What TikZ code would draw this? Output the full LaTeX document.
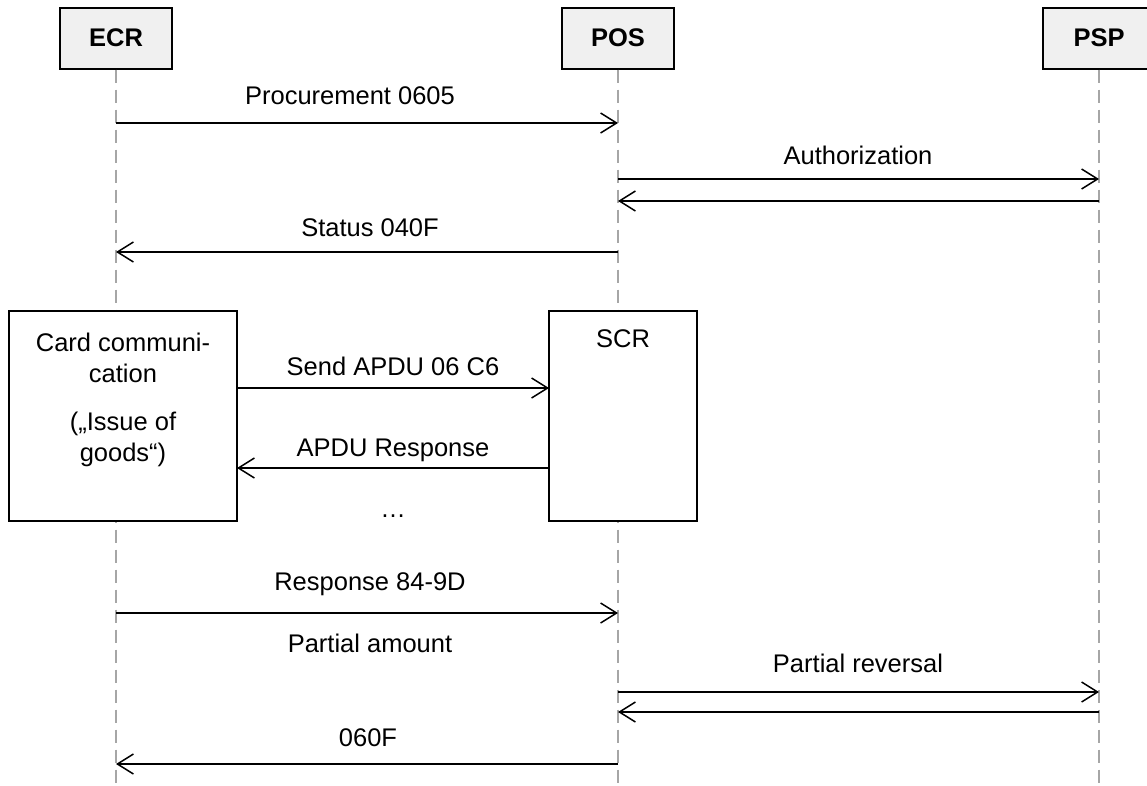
\documentclass[tikz,border=0pt]{standalone}
\usepackage{fontspec}
\setmainfont{Liberation Sans}
\usetikzlibrary{arrows.meta}
\definecolor{headfill}{HTML}{F0F0F0}
\definecolor{lifegray}{HTML}{A6A6A6}
\tikzset{
  actor/.style={draw, line width=2pt, fill=headfill, minimum width=112pt, minimum height=61pt, inner sep=0pt, font=\fontsize{25.5}{30}\selectfont\bfseries},
  lifeline/.style={lifegray, line width=1.6pt, dash pattern=on 13pt off 7pt},
  msg/.style={line width=1.5pt, -{Straight Barb[length=16pt,width=20pt]}},
  lbl/.style={font=\fontsize{25.5}{30}\selectfont, inner sep=0pt, text height=18.5pt, text depth=0pt},
  note/.style={font=\fontsize{25.5}{31}\selectfont, inner sep=0pt, align=center},
  proc/.style={draw, line width=1.8pt, fill=white, inner sep=0pt}
}
\begin{document}
\begin{tikzpicture}[x=1pt,y=-1pt, line cap=butt]
\useasboundingbox (0,0) rectangle (1147,785);
% participants
\node[actor] (ecr) at (116,38) {ECR};
\node[actor] (pos) at (618,38) {POS};
\node[actor] (psp) at (1099,38) {PSP};
% lifelines
\coordinate (ecrEnd) at (116,785);
\coordinate (posEnd) at (618,785);
\coordinate (pspEnd) at (1099,785);
\draw[lifeline] (ecr.south) -- (ecrEnd);
\draw[lifeline] (pos.south) -- (posEnd);
\draw[lifeline] (psp.south) -- (pspEnd);
% procurement
\coordinate (e1) at (116,123);
\coordinate (p1) at (618,123);
\draw[msg] (e1) -- (p1);
\node[lbl] (procLbl) at (350,95) {Procurement 0605};
% authorization
\coordinate (p2) at (618,179);
\coordinate (s2) at (1099,179);
\coordinate (p3) at (618,201);
\coordinate (s3) at (1099,201);
\draw[msg] (p2) -- (s2);
\draw[msg] (s3) -- (p3);
\node[lbl] (authLbl) at (858,155) {Authorization};
% status
\coordinate (p4) at (618,252);
\coordinate (e4) at (116,252);
\draw[msg] (p4) -- (e4);
\node[lbl] (statLbl) at (370,227) {Status 040F};
% card communication
\node[proc, minimum width=228pt, minimum height=210pt] (card) at (123,416) {};
\node[proc, minimum width=148pt, minimum height=210pt] (scr) at (623,416) {};
\node[note, anchor=north] (cardLbl) at (123,332.5) {Card communi-\\cation\\[17pt](„Issue of\\goods“)};
\node[lbl] (scrLbl) at (623,338) {SCR};
\coordinate (c5) at (237,388);
\coordinate (r5) at (549,388);
\draw[msg] (c5) -- (r5);
\node[lbl] (sendLbl) at (393,366) {Send APDU 06 C6};
\coordinate (r6) at (549,468);
\coordinate (c6) at (237,468);
\draw[msg] (r6) -- (c6);
\node[lbl] (respLbl) at (393,447) {APDU Response};
\node[lbl] (dots) at (393,508) {…};
% response
\coordinate (e7) at (116,613);
\coordinate (p7) at (618,613);
\draw[msg] (e7) -- (p7);
\node[lbl] (respCode) at (370,581) {Response 84-9D};
\node[lbl] (partAmt) at (370,643) {Partial amount};
% partial reversal
\coordinate (p8) at (618,692);
\coordinate (s8) at (1099,692);
\coordinate (p9) at (618,712);
\coordinate (s9) at (1099,712);
\draw[msg] (p8) -- (s8);
\draw[msg] (s9) -- (p9);
\node[lbl] (revLbl) at (858,663) {Partial reversal};
% final status
\coordinate (p10) at (618,764);
\coordinate (e10) at (116,764);
\draw[msg] (p10) -- (e10);
\node[lbl] (finLbl) at (368,737) {060F};
\end{tikzpicture}
\end{document}
